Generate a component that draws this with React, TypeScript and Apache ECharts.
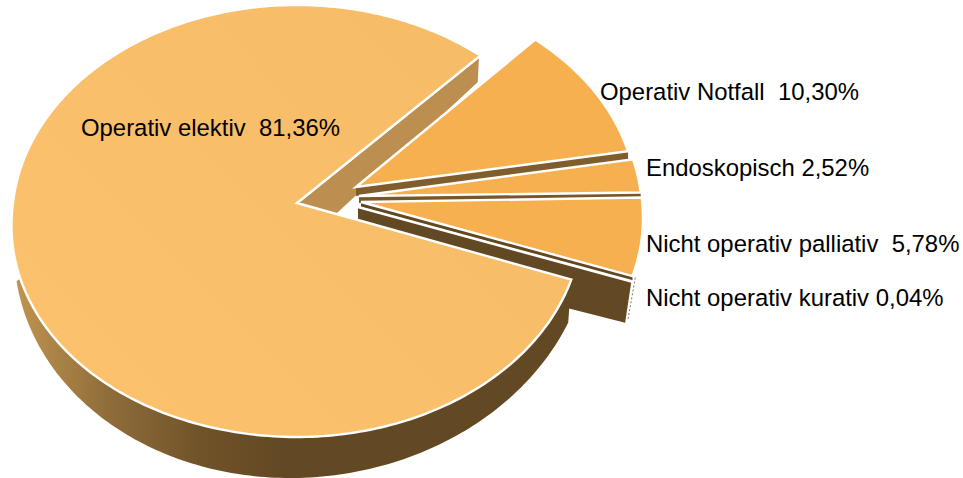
import React, { useEffect, useRef } from "react";
import * as echarts from "echarts";

const categories = ["Operativ elektiv", "Operativ Notfall", "Endoskopisch", "Nicht operativ palliativ", "Nicht operativ kurativ"];
const shares = [81.36, 10.3, 2.52, 5.78, 0.04];
const labelTexts = ["Operativ elektiv  81,36%", "Operativ Notfall  10,30%", "Endoskopisch 2,52%", "Nicht operativ palliativ  5,78%", "Nicht operativ kurativ 0,04%"];

const START_ANGLE = 110.3;
const labelPos = [[81, 127], [600, 91], [646, 167], [646, 243], [646, 297]];
const rimShift = [[0, 0], [55, -16], [60, -8], [61, -3], [60, 2]];
const apexPos = [[297, 203], [356, 187], [359, 196], [361, 202], [358, 207]];
const wallDepth = [0, 9, 7, 5, 0];
const topFill = ["#F8BE68", "#F6B04F", "#F6B04F", "#F6B04F", "#F6B04F"];
const wallFill = ["#BC8F50", "#7F5D2C", "#77572A", "#63481F", "#634824"];

const rad = (d: number) => (d * Math.PI) / 180;
const topRim = (deg: number) => {
  const s = Math.sin(rad(deg)), c = Math.cos(rad(deg)), w = 1 + 0.0833 * c;
  const bulge = s < 0 && c < 0 ? 6 * -c : 0;
  return [297 + ((284 + bulge) * s) / w, 203 - (214.5 * c) / w];
};
// lower edge of an end wall
const bottomRim = (deg: number) => {
  const s = Math.sin(rad(deg)), c = Math.cos(rad(deg)), w = 1 + 0.058 * c;
  return [297 + (277 * s) / w, 240 - (225 * c) / w];
};
// visible outer silhouette of the big slice's side wall (slightly tilted)
const outerRim = (deg: number) => {
  const y = 240 - 238 * Math.cos(rad(deg));
  return [298 - 0.05 * (y - 325) + 288 * Math.sin(rad(deg)), y];
};
const arc = (fn: (d: number) => number[], a: number, b: number, shift = [0, 0]) => {
  const n = Math.max(2, Math.ceil(Math.abs(b - a)));
  const out: number[][] = [];
  for (let i = 0; i <= n; i++) {
    const p = fn(a + ((b - a) * i) / n);
    out.push([p[0] + shift[0], p[1] + shift[1]]);
  }
  return out;
};

// cumulative start / end angle of each slice, from its share
const spans: number[][] = [];
{
  let a = START_ANGLE;
  shares.forEach((v) => {
    spans.push([a, a + (v / 100) * 360]);
    a += (v / 100) * 360;
  });
}

type Part = "cut" | "wall" | "top" | "rim" | "label";
const paintOrder: [number, Part][] = [
  [0, "cut"],
  [1, "wall"], [1, "top"],
  [2, "wall"], [2, "top"],
  [3, "wall"], [3, "top"],
  [4, "wall"], [4, "top"],
  [0, "rim"], [0, "top"],
  [0, "label"], [1, "label"], [2, "label"], [3, "label"], [4, "label"],
];

const whiteEdge = { stroke: "#ffffff", lineWidth: 2.4, lineJoin: "miter" as const };

function renderItem(params: any) {
  const [idx, part] = paintOrder[params.dataIndex];
  const [a, b] = spans[idx];
  const shift = rimShift[idx];
  const apex = apexPos[idx];
  if (part === "label") {
    return {
      type: "text",
      style: {
        text: labelTexts[idx],
        x: labelPos[idx][0],
        y: labelPos[idx][1],
        fill: "#000000",
        font: '23.9px "Liberation Sans", Arial, sans-serif',
        textAlign: "left",
        textVerticalAlign: "middle",
      },
    };
  }
  if (part === "top") {
    const fill =
      idx === 0
        ? new echarts.graphic.LinearGradient(100, 400, 450, 50, [
            { offset: 0, color: "#FCC16C" },
            { offset: 1, color: "#F6BC67" },
          ], true)
        : topFill[idx];
    return {
      type: "polygon",
      shape: { points: [apex, ...arc(topRim, a, b, shift)] },
      style: { fill, ...whiteEdge },
    };
  }
  if (part === "rim") {
    const fill = new echarts.graphic.LinearGradient(15, 0, 280, 0, [
      { offset: 0, color: "#C09450" },
      { offset: 0.35, color: "#8F6D3A" },
      { offset: 0.7, color: "#715329" },
      { offset: 1, color: "#634824" },
    ], true);
    return {
      type: "polygon",
      shape: { points: [...arc(topRim, a, 250), ...arc(outerRim, 260, a)] },
      style: { fill },
    };
  }
  if (part === "cut") {
    const p = topRim(b);
    const q = bottomRim(b);
    return {
      type: "polygon",
      shape: { points: [apex, p, q, [297, 252]] },
      style: { fill: wallFill[0], ...whiteEdge },
    };
  }
  // end wall of an exploded slice
  const p = topRim(b);
  const rimTop = [p[0] + shift[0], p[1] + shift[1]];
  if (idx === 4) {
    const q = bottomRim(b);
    const rimBot = [q[0] + shift[0] + 3, q[1] + shift[1] + 1];
    return {
      type: "group",
      children: [
        {
          type: "polygon",
          shape: { points: [apex, rimTop, rimBot, [apex[0], apex[1] + 48]] },
          style: { fill: wallFill[idx] },
        },
        {
          type: "line",
          shape: { x1: rimTop[0] + 4, y1: rimTop[1] - 4, x2: rimBot[0] + 3, y2: rimBot[1] - 4 },
          style: { stroke: "#8A7350", lineWidth: 1, lineDash: [2, 2] },
        },
      ],
    };
  }
  const d = wallDepth[idx];
  return {
    type: "polygon",
    shape: { points: [apex, rimTop, [rimTop[0], rimTop[1] + d], [apex[0], apex[1] + d]] },
    style: { fill: wallFill[idx] },
  };
}

export default function App() {
  const ref = useRef<HTMLDivElement>(null);
  useEffect(() => {
    const chart = echarts.init(ref.current!, null, { renderer: "svg" });
    chart.setOption({
      animation: false,
      backgroundColor: "#ffffff",
      series: [
        {
          type: "custom",
          name: "Anteile",
          coordinateSystem: "none",
          silent: true,
          clip: false,
          data: paintOrder.map(([i]) => ({ name: categories[i], value: shares[i] })),
          renderItem,
        },
      ],
    });
    return () => chart.dispose();
  }, []);
  return <div ref={ref} style={{ position: "fixed", left: 0, top: 0, width: 963, height: 478 }} />;
}
